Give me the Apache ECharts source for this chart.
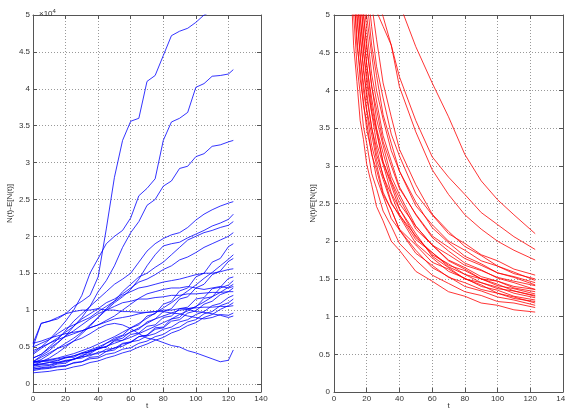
<!DOCTYPE html>
<html><head><meta charset="utf-8">
<script src="https://cdn.jsdelivr.net/npm/echarts@6/dist/echarts.min.js"></script>
<style>html,body{margin:0;padding:0;background:#fff}#c{width:565px;height:412px}</style>
</head><body><div id="c"></div>
<script>
// ---- Left panel: N(t)-E[N(t)] (units of 10^4) ----
const tLeft = [0,5,10,15,20,25,30,35,40,45,50,55,60,65,70,75,80,85,90,95,100,105,110,115,120,123];
const L01 = [0.55,0.82,0.85,0.88,0.95,1.05,1.12,1.2,1.45,2.1,2.8,3.3,3.56,3.6,4.1,4.18,4.45,4.72,4.78,4.82,4.9,5.0,5.05,5.15,5.3,5.4];
const L02 = [0.42,0.5,0.6,0.72,0.85,1.0,1.2,1.5,1.7,1.9,2.0,2.08,2.25,2.55,2.65,2.78,3.3,3.55,3.6,3.68,4.02,4.07,4.17,4.18,4.2,4.26];
const L03 = [0.3,0.38,0.45,0.55,0.65,0.78,0.9,1.05,1.25,1.4,1.6,1.85,2.05,2.2,2.42,2.5,2.68,2.75,2.92,2.95,3.08,3.12,3.22,3.24,3.28,3.3];
const L04 = [0.35,0.4,0.5,0.6,0.72,0.85,0.95,1.05,1.15,1.25,1.35,1.42,1.5,1.65,1.8,1.9,1.97,2.02,2.05,2.12,2.22,2.3,2.36,2.41,2.45,2.47];
const L05 = [0.28,0.33,0.4,0.48,0.55,0.62,0.7,0.8,0.9,1.0,1.1,1.18,1.28,1.42,1.6,1.75,1.87,1.9,1.92,1.98,2.03,2.08,2.14,2.18,2.23,2.3];
const L06 = [0.25,0.3,0.35,0.42,0.5,0.58,0.68,0.78,0.9,1.02,1.12,1.25,1.35,1.45,1.5,1.58,1.65,1.75,1.85,1.95,2.0,2.05,2.08,2.12,2.15,2.2];
const L07 = [0.4,0.48,0.55,0.62,0.7,0.78,0.88,0.95,1.02,1.1,1.15,1.22,1.3,1.38,1.42,1.48,1.55,1.6,1.68,1.72,1.78,1.85,1.9,1.95,2.0,2.05];
const L08 = [0.2,0.22,0.23,0.27,0.28,0.34,0.37,0.45,0.47,0.55,0.62,0.66,0.76,0.8,0.92,0.95,1.08,1.12,1.26,1.3,1.45,1.5,1.65,1.7,1.86,1.9];
const L09 = [0.3,0.31,0.33,0.35,0.38,0.41,0.45,0.49,0.54,0.59,0.64,0.7,0.76,0.82,0.89,0.96,1.03,1.1,1.18,1.26,1.34,1.43,1.51,1.6,1.69,1.75];
const L10 = [0.22,0.24,0.25,0.28,0.31,0.33,0.39,0.41,0.48,0.5,0.59,0.62,0.71,0.74,0.84,0.88,0.98,1.02,1.15,1.18,1.3,1.35,1.48,1.53,1.66,1.7];
const L11 = [0.5,0.55,0.6,0.68,0.75,0.8,0.85,0.9,0.98,1.05,1.12,1.2,1.25,1.3,1.32,1.35,1.38,1.4,1.42,1.45,1.48,1.5,1.5,1.52,1.55,1.56];
const L12 = [0.28,0.3,0.31,0.31,0.36,0.36,0.42,0.43,0.49,0.5,0.58,0.59,0.67,0.69,0.78,0.8,0.9,0.92,1.02,1.04,1.15,1.17,1.29,1.31,1.43,1.45];
const L13 = [0.18,0.2,0.21,0.23,0.24,0.29,0.3,0.36,0.37,0.44,0.46,0.54,0.56,0.64,0.66,0.76,0.77,0.88,0.9,1.02,1.04,1.16,1.18,1.3,1.34,1.4];
const L14 = [0.3,0.31,0.32,0.34,0.36,0.38,0.41,0.44,0.47,0.51,0.55,0.59,0.63,0.68,0.73,0.78,0.83,0.88,0.94,0.99,1.05,1.11,1.18,1.24,1.31,1.35];
const L15 = [0.24,0.26,0.26,0.29,0.3,0.34,0.35,0.4,0.41,0.47,0.48,0.55,0.57,0.64,0.66,0.74,0.76,0.85,0.87,0.96,0.99,1.08,1.12,1.21,1.25,1.3];
const L16 = [0.35,0.4,0.48,0.56,0.65,0.72,0.8,0.88,0.95,1.0,1.05,1.1,1.12,1.15,1.15,1.17,1.18,1.2,1.2,1.22,1.22,1.23,1.24,1.24,1.25,1.25];
const L17 = [0.26,0.27,0.29,0.29,0.32,0.33,0.37,0.38,0.43,0.44,0.49,0.51,0.57,0.59,0.65,0.68,0.74,0.77,0.84,0.87,0.94,0.98,1.06,1.09,1.17,1.2];
const L18 = [0.2,0.21,0.22,0.24,0.25,0.28,0.3,0.34,0.35,0.4,0.42,0.47,0.49,0.55,0.58,0.64,0.67,0.74,0.77,0.84,0.87,0.95,0.98,1.06,1.1,1.15];
const L19 = [0.45,0.5,0.55,0.6,0.64,0.68,0.72,0.76,0.8,0.84,0.88,0.9,0.92,0.95,0.97,0.98,1.0,1.0,1.02,1.02,1.03,1.04,1.04,1.05,1.05,1.06];
const L20 = [0.5,0.82,0.85,0.9,0.95,0.98,1.0,1.0,1.02,1.0,1.0,0.98,0.98,0.97,0.97,0.98,0.98,0.96,0.95,0.92,0.9,0.88,0.9,0.94,0.93,0.96];
const L21 = [0.25,0.27,0.29,0.32,0.35,0.38,0.42,0.46,0.5,0.55,0.6,0.65,0.7,0.76,0.82,0.88,0.92,0.96,1.0,1.01,0.98,0.97,0.95,0.93,0.9,0.92];
const L22 = [0.3,0.36,0.42,0.48,0.52,0.58,0.62,0.68,0.75,0.8,0.82,0.8,0.75,0.68,0.62,0.6,0.56,0.52,0.5,0.45,0.42,0.38,0.34,0.3,0.32,0.46];
const L23 = [0.15,0.16,0.17,0.19,0.2,0.23,0.25,0.29,0.31,0.35,0.38,0.42,0.45,0.5,0.54,0.59,0.63,0.69,0.73,0.79,0.83,0.9,0.94,1.01,1.06,1.1];
const L24 = [0.55,0.58,0.62,0.65,0.68,0.7,0.72,0.76,0.8,0.86,0.92,1.0,1.08,1.16,1.22,1.25,1.28,1.3,1.3,1.32,1.3,1.28,1.3,1.32,1.3,1.32];
const leftLines = [L01,L02,L03,L04,L05,L06,L07,L08,L09,L10,L11,L12,L13,L14,L15,L16,L17,L18,L19,L20,L21,L22,L23,L24];

// ---- Right panel: N(t)/E[N(t)] ----
const tRight = [8,12,14,16,18,20,23,26,30,35,40,50,60,70,80,90,100,110,123];
const R01 = [6.6,4.6,4.12,3.6,3.35,3.02,2.75,2.46,2.27,2.0,1.88,1.6,1.47,1.33,1.27,1.18,1.15,1.09,1.06];
const R02 = [7.1,5.02,4.35,3.96,3.52,3.3,2.9,2.7,2.4,2.2,1.97,1.75,1.55,1.44,1.33,1.28,1.2,1.18,1.12];
const R03 = [7.6,5.3,4.72,4.15,3.85,3.48,3.18,2.84,2.6,2.3,2.15,1.84,1.68,1.52,1.45,1.36,1.31,1.24,1.2];
const R04 = [7.5,5.4,4.6,4.28,3.8,3.58,3.15,2.95,2.62,2.42,2.16,1.95,1.72,1.63,1.5,1.45,1.37,1.34,1.28];
const R05 = [8.2,5.7,4.95,4.5,4.0,3.72,3.27,3.02,2.65,2.42,2.15,1.88,1.65,1.53,1.4,1.34,1.26,1.22,1.15];
const R06 = [8.0,5.65,5.05,4.45,4.1,3.75,3.42,3.08,2.82,2.5,2.35,2.02,1.85,1.68,1.61,1.5,1.47,1.4,1.36];
const R07 = [8.7,6.0,5.35,4.7,4.32,3.9,3.52,3.15,2.88,2.52,2.33,1.97,1.78,1.6,1.51,1.4,1.35,1.27,1.22];
const R08 = [8.6,6.1,5.25,4.78,4.26,3.98,3.5,3.24,2.86,2.62,2.35,2.07,1.82,1.7,1.56,1.5,1.41,1.37,1.3];
const R09 = [9.2,6.4,5.6,4.96,4.55,4.1,3.7,3.3,3.02,2.64,2.43,2.05,1.85,1.66,1.56,1.45,1.39,1.31,1.25];
const R10 = [9.0,6.3,5.55,5.02,4.5,4.2,3.72,3.44,3.05,2.78,2.5,2.2,1.95,1.82,1.68,1.61,1.52,1.47,1.41];
const R11 = [9.9,6.8,5.9,5.3,4.72,4.36,3.8,3.48,3.05,2.74,2.43,2.1,1.8,1.65,1.5,1.42,1.31,1.26,1.18];
const R12 = [9.8,6.75,5.9,5.25,4.8,4.33,3.9,3.5,3.17,2.8,2.57,2.16,1.95,1.75,1.65,1.53,1.47,1.38,1.33];
const R13 = [10,7.0,6.1,5.5,4.98,4.62,4.05,3.75,3.32,3.0,2.7,2.36,2.07,1.92,1.77,1.68,1.58,1.53,1.45];
const R14 = [10.4,7.1,6.2,5.5,5.04,4.55,4.08,3.62,3.27,2.86,2.62,2.2,1.95,1.74,1.63,1.5,1.43,1.34,1.27];
const R15 = [10.8,7.5,6.5,5.8,5.2,4.82,4.22,3.86,3.4,3.06,2.72,2.35,2.05,1.87,1.71,1.62,1.51,1.45,1.36];
const R16 = [11,7.7,6.7,6.0,5.4,4.98,4.48,4.0,3.62,3.2,2.93,2.47,2.22,2.0,1.88,1.74,1.67,1.57,1.5];
const R17 = [12,8.2,7.1,6.3,5.7,5.25,4.6,4.2,3.68,3.3,2.93,2.52,2.18,1.98,1.8,1.7,1.58,1.52,1.42];
const R18 = [12.4,8.5,7.4,6.6,5.9,5.45,4.85,4.32,3.9,3.42,3.13,2.63,2.35,2.1,1.97,1.82,1.74,1.63,1.55];
const R19 = [13.8,9.4,8.1,7.2,6.4,5.9,5.15,4.68,4.1,3.65,3.22,2.75,2.36,2.13,1.93,1.81,1.67,1.59,1.48];
const R20 = [7.5,6.8,6.5,6.2,5.9,5.6,5.3,5.05,4.85,4.6,4.18,3.6,3.12,2.85,2.62,2.38,2.22,2.06,1.89];
const R21 = [7.0,6.6,6.4,6.2,6.0,5.8,5.5,5.25,4.98,4.6,4.05,3.45,2.95,2.62,2.35,2.16,2.0,1.88,1.75];
const R22 = [9.0,8.5,8.2,7.9,7.6,7.3,6.9,6.5,6.1,5.6,5.15,4.58,4.1,3.65,3.15,2.8,2.55,2.35,2.1];
const rightLines = [R01,R02,R03,R04,R05,R06,R07,R08,R09,R10,R11,R12,R13,R14,R15,R16,R17,R18,R19,R20,R21,R22];

const yTicks = [0,0.5,1,1.5,2,2.5,3,3.5,4,4.5,5];

const chart = echarts.init(document.getElementById('c'), null, {renderer:'canvas'});
const axisCol = '#555';
const labelStyle = {fontSize:8, color:'#333', fontFamily:'Liberation Sans, Arial, sans-serif'};
function xAx(gi, pos, show, name) {
  return {type:'value', gridIndex:gi, position:pos, min:0, max:140, interval:20,
    axisLine:{show:true, onZero:false, lineStyle:{color:axisCol, width:1}},
    axisTick:{show:true, inside:true, length:4, lineStyle:{color:axisCol}},
    axisLabel:Object.assign({show:show, margin:3}, labelStyle),
    splitLine:{show:pos==='bottom', lineStyle:{type:[1,2], color:'#999', width:1}},
    name: name || '', nameLocation:'middle', nameGap:10, nameMoveOverlap:false,
    nameTextStyle:Object.assign({verticalAlign:'top'}, labelStyle)};
}
function yAx(gi, pos, show, min, name, gap, margin) {
  return {type:'value', gridIndex:gi, position:pos, min:min, max:5,
    axisLine:{show:true, onZero:false, lineStyle:{color:axisCol, width:1}},
    axisTick:{show:true, inside:true, length:4, lineStyle:{color:axisCol}, customValues:yTicks},
    axisLabel:Object.assign({show:show, margin:margin, customValues:yTicks, formatter:v=>String(v)}, labelStyle),
    splitLine:{show:pos==='left', lineStyle:{type:[1,2], color:'#999', width:1}},
    name: name || '', nameLocation:'middle', nameGap:gap, nameRotate:90, nameMoveOverlap:false,
    nameTextStyle:Object.assign({}, labelStyle)};
}
const series = [];
leftLines.forEach(arr => series.push({type:'line', xAxisIndex:0, yAxisIndex:0, showSymbol:false, silent:true,
  data: tLeft.map((t,i)=>[t, arr[i]]), lineStyle:{color:'#0000ff', width:0.8}, clip:true}));
rightLines.forEach(arr => series.push({type:'line', xAxisIndex:2, yAxisIndex:2, showSymbol:false, silent:true,
  data: tRight.map((t,i)=>[t, arr[i]]), lineStyle:{color:'#ff0000', width:0.8}, clip:true}));

chart.setOption({
  animation:false,
  backgroundColor:'#fff',
  title:{text:'\u00d710{s|4}', left:34, top:3,
    textStyle:{fontSize:8, fontWeight:'normal', color:'#333', fontFamily:'Liberation Sans, Arial, sans-serif',
      rich:{s:{fontSize:6, color:'#333', verticalAlign:'top', padding:[0,0,5,0]}}}},
  grid:[{left:33, right:304, top:15, bottom:20, outerBoundsMode:'none'},
        {left:334, right:2, top:15, bottom:20, outerBoundsMode:'none'}],
  xAxis:[xAx(0,'bottom',true,'t'), xAx(0,'top',false), xAx(1,'bottom',true,'t'), xAx(1,'top',false)],
  yAxis:[yAx(0,'left',true,-0.11,'N(t)-E[N(t)]',19,3), yAx(0,'right',false,-0.11),
         yAx(1,'left',true,0,'N(t)/E[N(t)]',17,4), yAx(1,'right',false,0)],
  series: series
});
</script></body></html>
